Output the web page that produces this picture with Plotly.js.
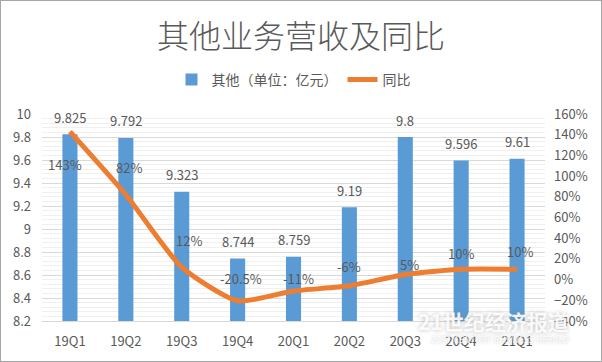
<!DOCTYPE html>
<html>
<head>
<meta charset="utf-8">
<script src="https://cdn.plot.ly/plotly-3.0.1.min.js"></script>
<style>
html,body{margin:0;padding:0;background:#fff;}
#wrap{position:absolute;left:0;top:0;width:600px;height:360px;border:1px solid #a6a6a6;}
#chart{width:600px;height:360px;}
</style>
</head>
<body>
<div id="wrap"><div id="chart"></div></div>
<script>
const categories = ['19Q1','19Q2','19Q3','19Q4','20Q1','20Q2','20Q3','20Q4','21Q1'];
const revenue = [9.825, 9.792, 9.323, 8.744, 8.759, 9.19, 9.8, 9.596, 9.61];
const revenueLabels = ['9.825','9.792','9.323','8.744','8.759','9.19','9.8','9.596','9.61'];
const yoy = [143, 82, 12, -20.5, -11, -6, 5, 10, 10];
const yoyLabels = ['143%','82%','12%','-20.5%','-11%','-6%','5%','10%','10%'];

// label offsets (style only)
const yoyShiftY = [-33, 27, 27, 22, 12, 19, 10, 16, 18];
const yoyShiftX = [-5, 3, 7, 3, 5, 0, 4, 0, 3];

const fontFam = '"Noto Sans CJK SC", "Microsoft YaHei", sans-serif';
const txt = '#595959';

const traces = [
  {
    type: 'bar', name: '其他（单位：亿元）', x: categories, y: revenue,
    marker: {color: '#5B9BD5'}, yaxis: 'y', hoverinfo: 'x+y'
  },
  {
    type: 'scatter', mode: 'lines', name: '同比', x: categories, y: yoy,
    yaxis: 'y2', line: {color: '#ED7D31', width: 5, shape: 'spline', smoothing: 0.6}
  }
];

const annotations = [];
categories.forEach((c, i) => {
  annotations.push({x: c, y: revenue[i], xref: 'x', yref: 'y', text: revenueLabels[i],
    showarrow: false, yshift: 17, font: {family: fontFam, size: 13, color: txt}});
  annotations.push({x: c, y: yoy[i], xref: 'x', yref: 'y2', text: yoyLabels[i],
    showarrow: false, yshift: yoyShiftY[i], xshift: yoyShiftX[i], font: {family: fontFam, size: 13, color: txt}});
});
// watermark
annotations.push({xref: 'paper', yref: 'paper', x: 0.897, y: 0.0, xanchor: 'center', yanchor: 'middle',
  text: '<b>21世纪经济报道</b>',
  showarrow: false, font: {family: fontFam, size: 21, color: 'rgba(255,255,255,0.9)',
    shadow: '0px 0px 4px rgba(120,120,120,0.55)'}});
annotations.push({xref: 'paper', yref: 'paper', x: 0.91, y: -0.095, xanchor: 'center', yanchor: 'middle',
  text: '<i>21ST CENTURY BUSINESS HERALD</i>',
  showarrow: false, font: {family: 'DejaVu Sans', size: 8, color: 'rgba(255,255,255,0.9)',
    shadow: '0px 0px 3px rgba(120,120,120,0.5)'}});

const layout = {
  width: 600, height: 360,
  margin: {l: 41, r: 56, t: 113, b: 40},
  paper_bgcolor: '#fff', plot_bgcolor: '#fff',
  title: {text: '其他业务营收及同比', x: 0.5, xanchor: 'center', y: 0.9, yanchor: 'middle',
    font: {family: fontFam, size: 32, color: txt, weight: 300}},
  showlegend: true,
  legend: {orientation: 'h', x: 0.5, xanchor: 'center', y: 1.165, yanchor: 'middle',
    font: {family: fontFam, size: 14, color: txt}, itemwidth: 30, traceorder: 'normal'},
  bargap: 0.73,
  xaxis: {type: 'category', showgrid: false, zeroline: false, showline: true, linecolor: '#d9d9d9',
    ticks: '', tickfont: {family: fontFam, size: 13, color: txt}, ticklabelstandoff: 8},
  yaxis: {range: [8.2, 10], dtick: 0.2, tick0: 8.2, showgrid: true, gridcolor: '#d9d9d9', zeroline: false,
    tickfont: {family: fontFam, size: 13, color: txt}, ticks: '', ticklabelstandoff: 10,
    minor: {dtick: 0.04, showgrid: true, gridcolor: '#f0f0f0'}},
  yaxis2: {range: [-40, 160], dtick: 20, overlaying: 'y', side: 'right', showgrid: false, zeroline: false,
    ticksuffix: '%', tickfont: {family: fontFam, size: 13, color: txt}, ticks: '', ticklabelstandoff: 8},
  annotations: annotations
};

Plotly.newPlot('chart', traces, layout, {displayModeBar: false, staticPlot: true});
</script>
</body>
</html>
